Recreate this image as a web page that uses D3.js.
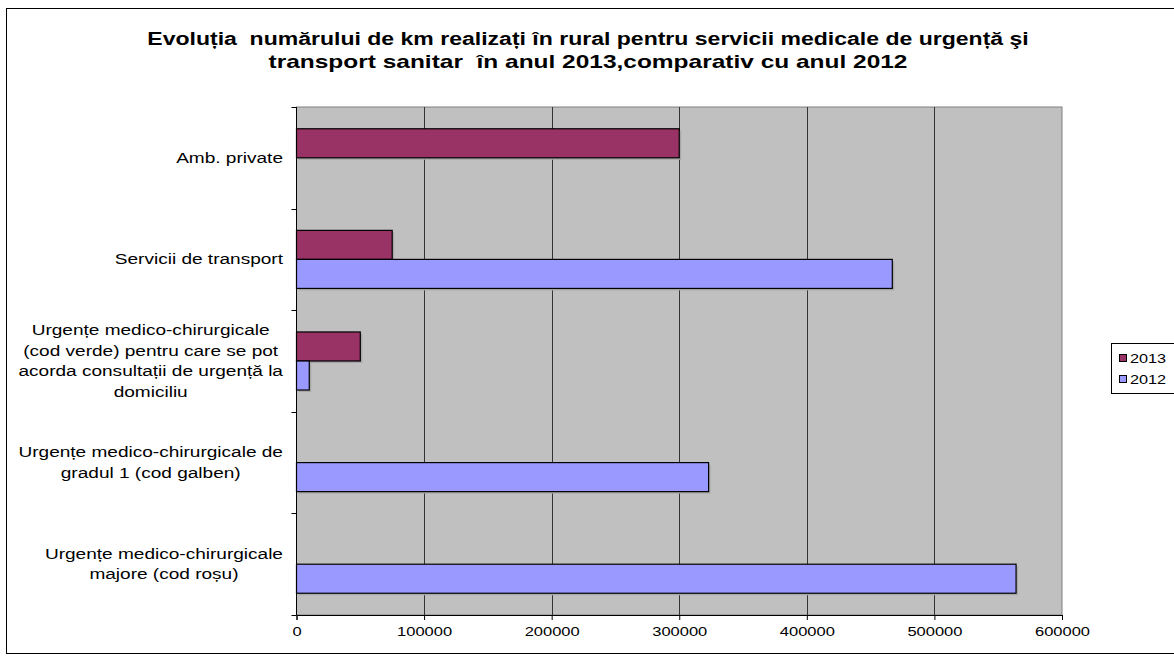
<!DOCTYPE html>
<html>
<head>
<meta charset="utf-8">
<script src="https://cdn.jsdelivr.net/npm/d3@7"></script>
<style>
  body { margin: 0; background: #fff; }
  svg text { font-family: Arial, "Liberation Sans", sans-serif; white-space: pre; }
</style>
</head>
<body>
<div id="chart"></div>
<script>
// categories, top to bottom
const categories = [
  'Amb. private',
  'Servicii de transport',
  'Urgențe medico-chirurgicale (cod verde) pentru care se pot acorda consultații de urgență la domiciliu',
  'Urgențe medico-chirurgicale de gradul 1 (cod galben)',
  'Urgențe medico-chirurgicale majore (cod roșu)'
];
const categoryLines = [
  ['Amb. private'],
  ['Servicii de transport'],
  ['Urgențe medico-chirurgicale', '(cod verde) pentru care se pot', 'acorda consultații de urgență la', 'domiciliu'],
  ['Urgențe medico-chirurgicale de', 'gradul 1 (cod galben)'],
  ['Urgențe medico-chirurgicale', 'majore (cod roșu)']
];
const seriesNames = ['2013', '2012'];
const values2013 = [300000, 75000, 50000, 0, 0];
const values2012 = [0, 467000, 10000, 323000, 564000];
const xTicks = [0, 100000, 200000, 300000, 400000, 500000, 600000];
const titleLines = [
  'Evoluția  numărului de km realizați în rural pentru servicii medicale de urgență şi',
  'transport sanitar  în anul 2013,comparativ cu anul 2012'
];

const W = 1174, H = 660;
const plot = { left: 296.5, right: 1062, top: 107, bottom: 615 };
const colors = { '2013': '#993366', '2012': '#9999FF' };

const svg = d3.select('#chart').append('svg')
  .attr('width', W).attr('height', H);

// outer frame (right side runs off the picture)
svg.append('rect')
  .attr('x', 6.5).attr('y', 8.5)
  .attr('width', 1200).attr('height', 645)
  .attr('fill', '#fff').attr('stroke', '#000').attr('stroke-width', 1);

// title, text is drawn wider than normal
svg.append('g').selectAll('text')
  .data(titleLines)
  .join('text')
  .attr('transform', (d, i) => 'translate(588,' + (45 + i * 23) + ') scale(' + (i ? 1.36 : 1.28) + ',1)')
  .attr('text-anchor', 'middle')
  .style('font-size', '18px').style('font-weight', 'bold')
  .text(d => d);

const x = d3.scaleLinear().domain([0, 600000]).range([plot.left, plot.right]);
const y = d3.scaleBand().domain(categories).range([plot.top, plot.bottom]);
const barH = y.bandwidth() / 3.5;

// plot area
svg.append('rect')
  .attr('x', plot.left).attr('y', plot.top)
  .attr('width', plot.right - plot.left).attr('height', plot.bottom - plot.top)
  .attr('fill', '#C0C0C0').attr('stroke', '#808080').attr('stroke-width', 1);

// gridlines
svg.append('g').selectAll('line')
  .data(xTicks.slice(1, -1))
  .join('line')
  .attr('x1', d => Math.round(x(d)) + 0.5).attr('x2', d => Math.round(x(d)) + 0.5)
  .attr('y1', plot.top).attr('y2', plot.bottom)
  .attr('stroke', '#333').attr('stroke-width', 1);

// bars, with a faint shadow
const rows = categories.map((c, i) => ({ cat: c, v2013: values2013[i], v2012: values2012[i] }));
const barG = svg.append('g');
seriesNames.forEach((s, si) => {
  const data = rows.filter(r => r['v' + s] > 0);
  barG.selectAll('.shadow' + s)
    .data(data)
    .join('rect')
    .attr('x', x(0) + 2)
    .attr('y', d => y(d.cat) + y.bandwidth() / 2 - barH + si * barH + 2)
    .attr('width', d => x(d['v' + s]) - x(0))
    .attr('height', barH)
    .attr('fill', '#a8a8a8');
});
seriesNames.forEach((s, si) => {
  barG.selectAll('.bar' + s)
    .data(rows.filter(r => r['v' + s] > 0))
    .join('rect')
    .attr('x', x(0))
    .attr('y', d => y(d.cat) + y.bandwidth() / 2 - barH + si * barH)
    .attr('width', d => x(d['v' + s]) - x(0))
    .attr('height', barH)
    .attr('fill', colors[s])
    .attr('stroke', '#000').attr('stroke-width', 1.2);
});

// x axis
const xAxis = d3.axisBottom(x).tickValues(xTicks).tickFormat(d3.format('d')).tickSize(5).tickPadding(7);
const gx = svg.append('g')
  .attr('transform', 'translate(0,' + plot.bottom + ')')
  .call(xAxis);
gx.select('.domain').attr('stroke', '#000');
gx.selectAll('.tick line').attr('stroke', '#000');
gx.selectAll('text')
  .style('font-size', '13px').attr('fill', '#000')
  .attr('transform', 'scale(1.27,1)');

// y axis
const gy = svg.append('g').attr('transform', 'translate(' + plot.left + ',0)');
gy.append('line')
  .attr('x1', 0).attr('x2', 0).attr('y1', plot.top).attr('y2', plot.bottom)
  .attr('stroke', '#000');
gy.selectAll('.ytick')
  .data(categories.map(c => y(c)).concat([plot.bottom]))
  .join('line')
  .attr('x1', -5).attr('x2', 0)
  .attr('y1', d => Math.round(d) + 0.5).attr('y2', d => Math.round(d) + 0.5)
  .attr('stroke', '#000');

// category labels, each block right aligned with centred lines
const labelRight = 283;
const labelSx = 1.36;
categories.forEach((c, i) => {
  const lines = categoryLines[i];
  const g = svg.append('g');
  const texts = g.selectAll('text')
    .data(lines)
    .join('text')
    .style('font-size', '14px')
    .attr('text-anchor', 'middle')
    .text(d => d);
  let maxW = 0;
  texts.each(function() { maxW = Math.max(maxW, this.getComputedTextLength()); });
  const cx = labelRight - maxW * labelSx / 2;
  const cy = y(c) + y.bandwidth() / 2;
  const lh = 20.5;
  texts.attr('transform', (d, j) =>
    'translate(' + cx + ',' + (cy + (j - (lines.length - 1) / 2) * lh + 5) + ') scale(' + labelSx + ',1)');
});

// legend (runs off the right edge)
const legend = svg.append('g').attr('transform', 'translate(1111,343)');
legend.append('rect')
  .attr('x', 0.5).attr('y', 0.5).attr('width', 100).attr('height', 50)
  .attr('fill', '#fff').attr('stroke', '#000');
seriesNames.forEach((s, i) => {
  legend.append('rect')
    .attr('x', 8.5).attr('y', 11.5 + i * 21).attr('width', 7).attr('height', 7)
    .attr('fill', colors[s]).attr('stroke', '#000');
  legend.append('text')
    .attr('transform', 'translate(19,' + (20 + i * 21) + ') scale(1.25,1)')
    .style('font-size', '13px')
    .text(s);
});
</script>
</body>
</html>
